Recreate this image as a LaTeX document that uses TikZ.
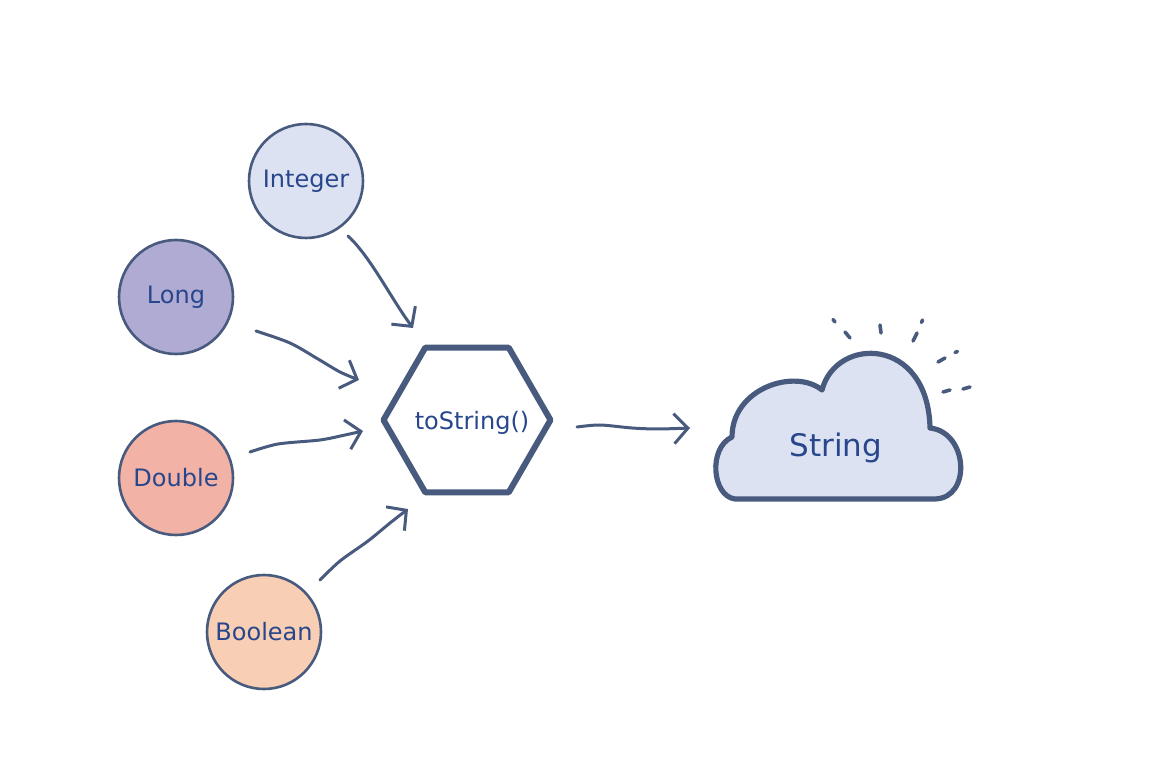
\documentclass[tikz,border=0pt]{standalone}
\usepackage{fontspec}
\setmainfont{DejaVu Sans}
\usetikzlibrary{arrows.meta,shapes.geometric}
\definecolor{edge}{HTML}{485A7E}
\definecolor{txt}{HTML}{27468C}
\definecolor{cInt}{HTML}{DDE2F2}
\definecolor{cLong}{HTML}{AFABD3}
\definecolor{cDouble}{HTML}{F2B3A6}
\definecolor{cBool}{HTML}{F8CEB4}
\definecolor{cCloud}{HTML}{DDE2F2}
\tikzset{
  typ/.style={circle, draw=edge, line width=1.3pt, minimum size=57pt, inner sep=0pt,
    text=txt, font=\fontsize{12}{14}\selectfont},
  arr/.style={draw=edge, line width=1.5pt, line cap=round, line join=round,
    -{Straight Barb[length=7pt,width=15pt,line width=1.5pt]}},
  ray/.style={draw=edge, line width=1.8pt, line cap=round},
}
\begin{document}
\begin{tikzpicture}[x=0.5pt,y=-0.5pt]
\useasboundingbox (0,0) rectangle (1160,774);
\node[typ, fill=cInt] (int) at (306,181) {Integer};
\node[typ, fill=cLong] (long) at (176,297) {Long};
\node[typ, fill=cDouble] (dbl) at (176,478) {Double};
\node[typ, fill=cBool] (bool) at (264,632) {Boolean};
\node[regular polygon, regular polygon sides=6, minimum size=83.5pt, inner sep=0pt,
  draw=edge, line width=3pt, line join=round, text=txt,
  font=\fontsize{12}{14}\selectfont] (hex) at (467,420) {};
\node[text=txt, font=\fontsize{12}{14}\selectfont] (hexlabel) at (472,423) {toString()};
% cloud
\draw[draw=edge, fill=cCloud, line width=2.6pt, line join=round]
  (735,499) .. controls (712,496) and (708,448) .. (732,437)
  .. controls (732,388) and (795,368) .. (822,390)
  .. controls (836,336) and (928,336) .. (930,428)
  .. controls (968,432) and (972,498) .. (935,499)
  -- cycle;
\node[text=txt, font=\fontsize{15.5}{18}\selectfont] (cloud) at (836,448) {String};
% rays
\draw[ray] (833,319.5) -- (835,322);
\draw[ray] (845,332) -- (850,338);
\draw[ray] (880,325) -- (881,333);
\draw[ray] (922.5,320) -- (921.5,322.5);
\draw[ray] (917,333) -- (913,341);
\draw[ray] (955,352.5) -- (957.5,351.5);
\draw[ray] (945,358) -- (938,362);
\draw[ray] (970,387) -- (963,389);
\draw[ray] (950,390) -- (943,392);
% connector ends
\coordinate (intS) at (348,236);
\coordinate (intE) at (413,328);
\coordinate (longS) at (256,331);
\coordinate (longE) at (359,380);
\coordinate (dblS) at (250,452);
\coordinate (dblE) at (363,431);
\coordinate (boolS) at (320,580);
\coordinate (boolE) at (408,509);
\coordinate (hexS) at (577,427);
\coordinate (cloudE) at (690,428);
\draw[arr] (intS) .. controls (370,256) and (392,300) .. (intE);
\draw[arr] plot[smooth, tension=0.5] coordinates {(longS) (290,343) (318,359) (340,372) (longE)};
\draw[arr] plot[smooth, tension=0.5] coordinates {(dblS) (278,444) (320,440) (345,435) (dblE)};
\draw[arr] plot[smooth, tension=0.5] coordinates {(boolS) (340,561) (368,541) (390,523) (boolE)};
\draw[arr] plot[smooth, tension=0.5] coordinates {(hexS) (600,425) (632,428) (658,429) (cloudE)};
\end{tikzpicture}
\end{document}
